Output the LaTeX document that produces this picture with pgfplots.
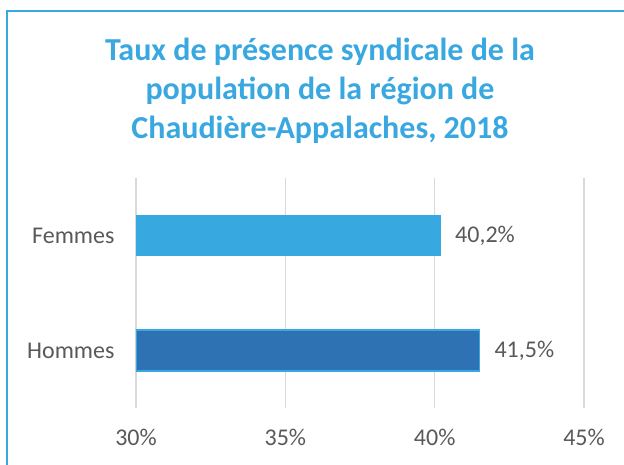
\documentclass[border=0pt]{standalone}
\usepackage{pgfplots}
\pgfplotsset{compat=1.18}
\usepackage{fontspec}
\setmainfont{Carlito}
\definecolor{titleblue}{HTML}{3AA8E0}
\definecolor{fem}{HTML}{37A9E0}
\definecolor{hom}{HTML}{2E72B3}
\definecolor{txt}{HTML}{595959}
\definecolor{gridgray}{HTML}{D9D9D9}
\begin{document}
\begin{tikzpicture}
\useasboundingbox (0,0) rectangle (624pt,465pt);
\draw[titleblue, line width=1.5pt] (7pt,-20pt) -- (7pt,454pt) -- (640pt,454pt);
\node[titleblue, font=\fontsize{32}{39}\selectfont\bfseries, align=center] at (320pt,374pt)
  {Taux de présence syndicale de la\\population de la région de\\Chaudière-Appalaches, 2018};
\begin{axis}[
  at={(136pt,57pt)}, anchor=south west,
  scale only axis, width=448pt, height=230pt,
  xbar, bar width=41pt, bar shift=0pt,
  xmin=30, xmax=45, ymin=-0.5, ymax=1.5,
  xtick={30,35,40,45},
  xticklabels={30\%,35\%,40\%,45\%},
  ytick={0,1}, yticklabels={Hommes,Femmes},
  axis line style={draw=none},
  major tick length=0pt,
  xmajorgrids, grid style={draw=gridgray, line width=1.5pt},
  ymajorgrids=false,
  tick label style={txt, font=\fontsize{24}{28}\selectfont},
  xticklabel style={yshift=-18pt},
  yticklabel style={xshift=-18pt},
  nodes near coords, point meta=explicit symbolic,
  every node near coord/.style={anchor=west, txt, font=\fontsize{24}{28}\selectfont, xshift=11pt},
]
\addplot[fill=fem, draw=none] coordinates {(40.2,1) [40,2\%]};
\addplot[fill=hom, draw=titleblue, line width=1.5pt] coordinates {(41.5,0) [41,5\%]};
\end{axis}
\end{tikzpicture}
\end{document}
